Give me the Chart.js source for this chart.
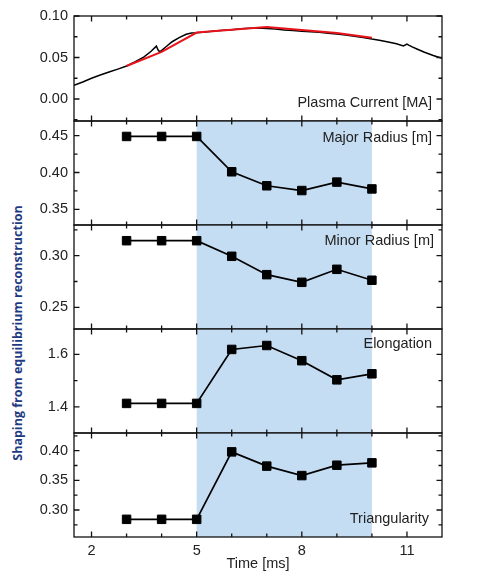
<!DOCTYPE html>
<html>
<head>
<meta charset="utf-8">
<script src="https://cdn.jsdelivr.net/npm/chart.js@4"></script>
<style>
  html, body { margin: 0; padding: 0; background: #fff; }
  #wrap { position: relative; width: 492px; height: 588px; overflow: hidden; }
  .panel { position: absolute; left: 0; width: 492px; }
  #ytitle {
    position: absolute; left: 17px; top: 333px;
    transform: translate(-50%, -50%) rotate(-90deg);
    white-space: nowrap; font: bold 12.5px "Open Sans", sans-serif; color: #1f3a80;
  }
</style>
</head>
<body>
<div id="wrap">
  <div id="ytitle">Shaping from equilibrium reconstruction</div>
</div>
<script>
// reconstruction times [ms]
const times = [3, 4, 5, 6, 7, 8, 9, 10];
const majorRadius = [0.449, 0.449, 0.449, 0.401, 0.382, 0.3755, 0.387, 0.3777];
const minorRadius = [0.3145, 0.3145, 0.3145, 0.2994, 0.2816, 0.2742, 0.2868, 0.2762];
const elongation = [1.413, 1.413, 1.413, 1.619, 1.634, 1.576, 1.503, 1.526];
const triangularity = [0.2843, 0.2843, 0.2843, 0.398, 0.374, 0.358, 0.3755, 0.3795];
const fitCurrent = [0.0398, 0.0568, 0.0800, 0.0834, 0.0866, 0.0830, 0.0794, 0.0737];

// measured plasma current
const ipTime = [1.5, 1.75, 2.0, 2.25, 2.5, 2.75, 3.0, 3.25, 3.5, 3.7, 3.85, 3.9, 3.95, 4.1, 4.3, 4.5, 4.7, 4.85,
  5.0, 5.25, 5.5, 5.75, 6.0, 6.25, 6.5, 6.75, 7.0, 7.25, 7.5, 7.75, 8.0, 8.25, 8.5, 8.75, 9.0, 9.25, 9.5, 9.75,
  10.0, 10.25, 10.5, 10.7, 10.9, 11.0, 11.05, 11.15, 11.3, 11.5, 11.75, 12.0];
const ipValue = [0.0165, 0.0205, 0.0250, 0.0290, 0.0326, 0.0360, 0.0398, 0.0450, 0.0507, 0.0575, 0.0637, 0.0590, 0.0568, 0.0620, 0.0690, 0.0740, 0.0780, 0.0795,
  0.0798, 0.0808, 0.0818, 0.0828, 0.0835, 0.0845, 0.0853, 0.0855, 0.0850, 0.0842, 0.0832, 0.0824, 0.0815, 0.0810, 0.0803, 0.0793, 0.0782, 0.0770, 0.0757, 0.0742,
  0.0722, 0.0705, 0.0683, 0.0665, 0.0640, 0.0662, 0.0650, 0.0628, 0.0600, 0.0563, 0.0525, 0.0490];

// axes
const timeTicks = [2, 5, 8, 11];
const timeMinor = [3, 4, 6, 7, 9, 10];
const currentTicks = [0, 0.05, 0.10];
const currentMinor = [-0.025, 0.025, 0.075];
const majorTicks = [0.35, 0.40, 0.45];
const majorMinor = [0.375, 0.425];
const minorTicks = [0.25, 0.30];
const minorMinor = [0.275, 0.325];
const elongTicks = [1.4, 1.6];
const elongMinor = [1.5];
const triTicks = [0.30, 0.35, 0.40];
const triMinor = [0.275, 0.325, 0.375, 0.425];
const bandStart = 5, bandEnd = 10;

const FONT = '"Liberation Sans", Arial, sans-serif';
const TEXT = '#222';
const BAND = '#c5ddf3';
const PAD = 16;

const deco = {
  id: 'deco',
  beforeDatasetsDraw(chart, args, o) {
    if (!o.band) return;
    const { ctx, chartArea: a, scales: { x } } = chart;
    const x0 = x.getPixelForValue(bandStart), x1 = x.getPixelForValue(bandEnd);
    ctx.save();
    ctx.fillStyle = BAND;
    ctx.fillRect(x0, a.top, x1 - x0, a.bottom - a.top);
    ctx.restore();
  },
  afterDraw(chart, args, o) {
    const { ctx, chartArea: a, scales: { x, y } } = chart;
    ctx.save();
    ctx.strokeStyle = '#111';
    ctx.lineWidth = 1.3;
    ctx.strokeRect(a.left, a.top, a.right - a.left, a.bottom - a.top);
    ctx.beginPath();
    const xt = (v, len) => {
      const px = x.getPixelForValue(v);
      ctx.moveTo(px, a.top); ctx.lineTo(px, a.top + len);
      ctx.moveTo(px, a.bottom); ctx.lineTo(px, a.bottom - len);
    };
    const yt = (v, len) => {
      const py = y.getPixelForValue(v);
      if (py < a.top - 0.5 || py > a.bottom + 0.5) return;
      ctx.moveTo(a.left, py); ctx.lineTo(a.left + len, py);
      ctx.moveTo(a.right, py); ctx.lineTo(a.right - len, py);
    };
    timeTicks.forEach(v => xt(v, 5.5));
    timeMinor.forEach(v => xt(v, 3.5));
    o.yMajor.forEach(v => yt(v, 5.5));
    o.yMinor.forEach(v => yt(v, 3.5));
    ctx.stroke();
    ctx.fillStyle = TEXT;
    ctx.font = '14.5px ' + FONT;
    ctx.textAlign = 'right';
    ctx.textBaseline = 'middle';
    ctx.fillText(o.label, o.labelX, o.labelY);
    ctx.restore();
  }
};

function markerSet(vals) {
  return {
    data: times.map((t, i) => ({ x: t, y: vals[i] })),
    borderColor: '#000', backgroundColor: '#000', borderWidth: 1.7,
    pointStyle: 'rect', pointRadius: 6, pointBorderWidth: 1, tension: 0
  };
}

const panels = [
  { top: 16, bottom: 121, min: -0.0265, max: 0.10, ticks: currentTicks, minor: currentMinor, dec: 2,
    label: 'Plasma Current [MA]', labelX: 432, labelY: 103, band: false,
    datasets: [
      { data: times.map((t, i) => ({ x: t, y: fitCurrent[i] })), borderColor: '#e8141b', borderWidth: 2, pointRadius: 0, tension: 0 },
      { data: ipTime.map((t, i) => ({ x: t, y: ipValue[i] })), borderColor: '#000', borderWidth: 1.5, pointRadius: 0, tension: 0 }
    ] },
  { top: 121, bottom: 225, min: 0.3287, max: 0.470, ticks: majorTicks, minor: majorMinor, dec: 2,
    label: 'Major Radius [m]', labelX: 432, labelY: 138, band: true, datasets: [markerSet(majorRadius)] },
  { top: 225, bottom: 329, min: 0.229, max: 0.3297, ticks: minorTicks, minor: minorMinor, dec: 2,
    label: 'Minor Radius [m]', labelX: 434, labelY: 241, band: true, datasets: [markerSet(minorRadius)] },
  { top: 329, bottom: 433, min: 1.3, max: 1.697, ticks: elongTicks, minor: elongMinor, dec: 1,
    label: 'Elongation', labelX: 432, labelY: 344, band: true, datasets: [markerSet(elongation)] },
  { top: 433, bottom: 537, min: 0.2545, max: 0.4298, ticks: triTicks, minor: triMinor, dec: 2,
    label: 'Triangularity', labelX: 429, labelY: 519, band: true, datasets: [markerSet(triangularity)], last: true }
];

const wrap = document.getElementById('wrap');
panels.forEach(p => {
  const boxTop = p.top - PAD;
  const boxH = p.last ? 588 - boxTop : (p.bottom - p.top) + 2 * PAD;
  const div = document.createElement('div');
  div.className = 'panel';
  div.style.top = boxTop + 'px';
  div.style.height = boxH + 'px';
  const cv = document.createElement('canvas');
  div.appendChild(cv);
  wrap.appendChild(div);

  new Chart(cv, {
    type: 'line',
    data: { datasets: p.datasets },
    plugins: [deco],
    options: {
      responsive: true,
      maintainAspectRatio: false,
      animation: false,
      devicePixelRatio: 1,
      layout: { padding: { left: 0, right: 50, top: PAD, bottom: p.last ? 0 : PAD } },
      plugins: {
        legend: { display: false },
        tooltip: { enabled: false },
        deco: { band: p.band, yMajor: p.ticks, yMinor: p.minor, label: p.label, labelX: p.labelX, labelY: p.labelY - boxTop }
      },
      scales: {
        x: {
          type: 'linear', min: 1.5, max: 12,
          display: !!p.last,
          grid: { display: false, drawTicks: false },
          border: { display: false },
          afterBuildTicks: s => { s.ticks = timeTicks.map(v => ({ value: v })); },
          afterFit: s => { s.height = p.last ? 51 : 0; },
          ticks: { padding: 5, color: TEXT, font: { family: FONT, size: 14.5 }, callback: v => String(v) },
          title: { display: true, text: 'Time [ms]', color: TEXT, font: { family: FONT, size: 14.5 }, padding: { top: 0, bottom: 15 } }
        },
        y: {
          type: 'linear', min: p.min, max: p.max,
          grid: { display: false, drawTicks: false },
          border: { display: false },
          afterBuildTicks: s => { s.ticks = p.ticks.map(v => ({ value: v })); },
          afterFit: s => { s.width = 74; },
          ticks: { padding: 6, color: TEXT, font: { family: FONT, size: 14.5 }, callback: v => v.toFixed(p.dec) }
        }
      }
    }
  });
});
</script>
</body>
</html>
